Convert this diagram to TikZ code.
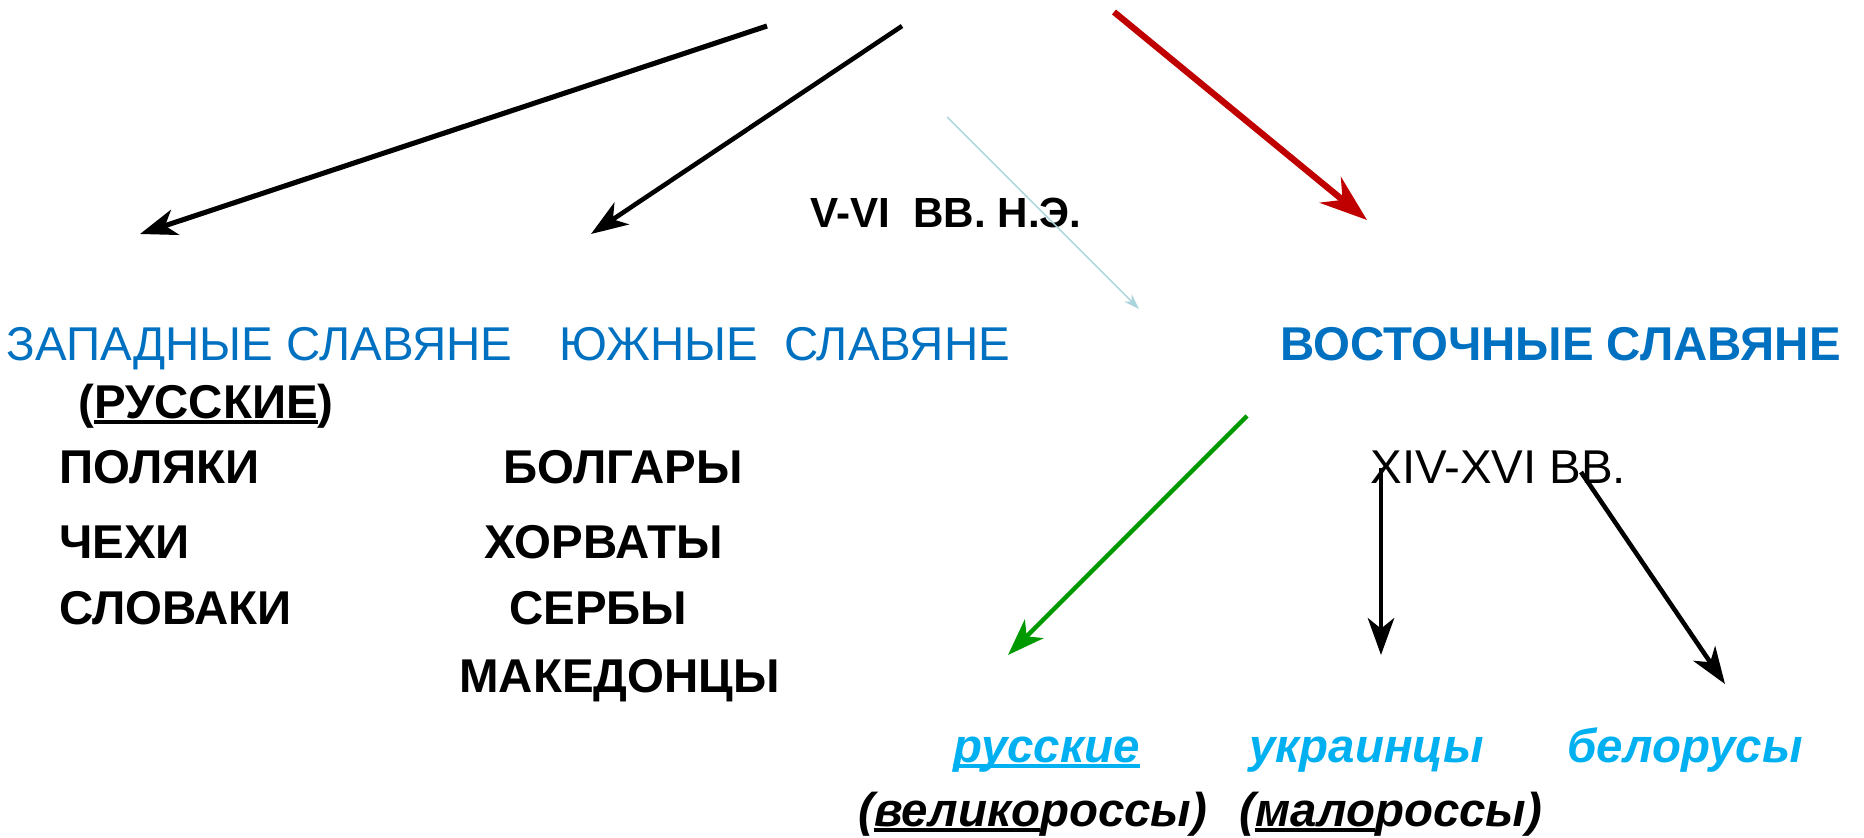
\documentclass[tikz,border=0pt]{standalone}
\usepackage{fontspec}
\setmainfont{Liberation Sans}
\usepackage{tikz}
\usetikzlibrary{arrows.meta,positioning}
\tikzset{>={Stealth[length=21pt,width=15pt,inset=6pt]}}
\definecolor{slavblue}{HTML}{0070C0}
\definecolor{skyblue}{HTML}{00B0F0}
\definecolor{arrred}{HTML}{C00000}
\definecolor{arrgreen}{HTML}{009900}
\definecolor{paleline}{HTML}{A9D4DB}
\newcommand{\undl}[1]{\setbox0=\hbox{#1}\rlap{\rule[-0.12em]{\wd0}{0.07em}}\box0}
\tikzset{
  txt/.style={anchor=base west, inner sep=0pt, font=\fontsize{27}{32}\selectfont},
  head/.style={txt, text=slavblue},
  headb/.style={head, font=\fontsize{27}{32}\selectfont\bfseries},
  people/.style={txt, font=\fontsize{27}{32}\selectfont\bfseries},
  branch/.style={txt, font=\fontsize{27}{32}\selectfont\bfseries\itshape},
  arr/.style={->, line width=2.6pt},
}

\begin{document}
\begin{tikzpicture}[x=0.02cm, y=-0.02cm]
        \useasboundingbox (0,0) rectangle (1864,838);

        \node[head] (west) at (6,360) {ЗАПАДНЫЕ СЛАВЯНЕ};
        \node[head] (south) at (559,360) {ЮЖНЫЕ~~СЛАВЯНЕ};
        \node[headb] (east) at (1280,360) {ВОСТОЧНЫЕ СЛАВЯНЕ};
        \node[txt, font=\fontsize{24}{28}\selectfont\bfseries] (date1) at (810,227) {V-VI~~ВВ. Н.Э.};
        \node[txt] (date2) at (1370,483) {XIV-XVI ВВ.};

        \node[people] (rus) at (78,418) {(\undl{РУССКИЕ})};
        \foreach \n/\y [count=\i] in {ПОЛЯКИ/483, ЧЕХИ/558, СЛОВАКИ/624}
        {
        \node[people] (w\i) at (59,\y) {\n};
        }
        \foreach \n/\x/\y [count=\i] in {БОЛГАРЫ/503/483, ХОРВАТЫ/484/558, СЕРБЫ/509/624, МАКЕДОНЦЫ/459/692}
        {
        \node[people] (s\i) at (\x,\y) {\n};
        }

        \node[branch, text=skyblue] (great) at (953,762) {\undl{русские}};
        \node[branch, text=skyblue] (ukr) at (1249,762) {украинцы};
        \node[branch, text=skyblue] (bel) at (1567,762) {белорусы};
        \node[branch] (greatr) at (858,826) {(\undl{велико}россы)};
        \node[branch] (littler) at (1239,826) {(\undl{мало}россы)};

        % arrow ends
        \coordinate (wa) at (767,26);   \coordinate (wb) at (140,234);
        \coordinate (sa) at (902,26);   \coordinate (sb) at (591,234);
        \coordinate (ea) at (1114,12);  \coordinate (eb) at (1367,220);
        \coordinate (pa) at (947,117);  \coordinate (pb) at (1139,309);
        \coordinate (ga) at (1247,416); \coordinate (gb) at (1008,655);
        \coordinate (ua) at (1381,468); \coordinate (ub) at (1381,655);
        \coordinate (ba) at (1581,472); \coordinate (bb) at (1725,684);

        \draw[arr, line width=2.9pt] (wa) -- (wb);
        \draw[arr] (sa) -- (sb);
        \draw[arr, arrred, line width=3.6pt, -{Stealth[length=27pt,width=19pt,inset=9pt]}] (ea) -- (eb);
        \draw[paleline, line width=0.8pt, -{Stealth[length=9pt,width=6pt,inset=3pt]}] (pa) -- (pb);
        \draw[arr, arrgreen, line width=2.5pt] (ga) -- (gb);
        \draw[arr] (ua) -- (ub);
        \draw[arr] (ba) -- (bb);
\end{tikzpicture}
\end{document}
